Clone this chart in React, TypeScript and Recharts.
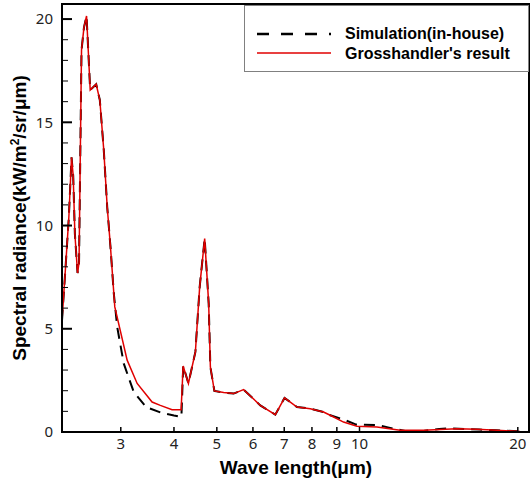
import { LineChart, Line, XAxis, YAxis, ReferenceArea, Legend } from "recharts";

// wavelength axis is drawn on a power-compressed scale, like the source plot
const EXP = 0.15;
const fx = (wl: number) => Math.pow(wl, EXP);
const fxInv = (u: number) => Math.pow(u, 1 / EXP);

const xMin = 2.15;
const xMax = 20.95;
const yMax = 20.73;

const xTicks = [3, 4, 5, 6, 7, 8, 9, 10, 20];
const yTicks = [0, 1, 2, 3, 4, 5, 6, 7, 8, 9, 10, 11, 12, 13, 14, 15, 16, 17, 18, 19, 20];

// Grosshandler's result (red)
const grossWl = [
  2.15, 2.195, 2.237, 2.272, 2.294, 2.316, 2.352, 2.372, 2.406, 2.44, 2.476, 2.528, 2.615, 2.669, 2.729,
  2.782, 2.833, 2.902, 3.107, 3.282, 3.559, 3.72, 3.96, 4.154, 4.198, 4.316, 4.476, 4.577, 4.697, 4.795,
  4.837, 4.937, 5.178, 5.447, 5.727, 6.224, 6.701, 7.011, 7.209, 7.445, 7.935, 8.453, 8.724, 9.286,
  9.882, 10.83, 12.03, 13.35, 15.44, 16.83, 18.31, 20.18,
];
const grossVal = [
  5.4, 8.0, 10.4, 13.3, 12.4, 9.6, 7.7, 8.2, 18.5, 19.6, 20.15, 16.56, 16.84, 16.08, 13.65,
  10.9, 8.97, 6.06, 3.48, 2.35, 1.45, 1.29, 1.08, 1.08, 3.2, 2.35, 3.88, 7.03, 9.37, 6.22,
  3.15, 1.99, 1.91, 1.86, 2.05, 1.29, 0.84, 1.65, 1.45, 1.21, 1.13, 0.97, 0.81, 0.48,
  0.28, 0.24, 0.08, 0.08, 0.16, 0.13, 0.08, 0.03,
];

// Simulation (in-house), black dashed
const simWl = [
  2.15, 2.195, 2.237, 2.272, 2.294, 2.316, 2.352, 2.372, 2.406, 2.44, 2.476, 2.528, 2.615, 2.669, 2.729,
  2.782, 2.833, 2.886, 2.941, 3.049, 3.221, 3.45, 3.72, 4.0, 4.16, 4.2, 4.316, 4.476, 4.577, 4.697, 4.795,
  4.837, 4.937, 5.178, 5.447, 5.727, 6.224, 6.701, 7.011, 7.209, 7.445, 7.935, 8.453, 8.724, 9.3,
  9.85, 10.83, 11.5, 12.3, 13.35, 14.3, 15.0, 16.0, 17.0, 18.3, 20.18,
];
const simVal = [
  5.4, 8.0, 10.4, 13.3, 12.4, 9.6, 7.7, 8.2, 18.5, 19.6, 20.15, 16.56, 16.84, 16.08, 13.65,
  10.9, 8.97, 6.71, 5.09, 3.32, 1.94, 1.2, 0.95, 0.8, 0.73, 3.2, 2.35, 3.88, 7.03, 9.37, 6.22,
  3.15, 1.99, 1.91, 1.86, 2.05, 1.29, 0.84, 1.65, 1.45, 1.21, 1.13, 0.97, 0.81, 0.6,
  0.36, 0.34, 0.2, 0.05, 0.05, 0.15, 0.18, 0.14, 0.12, 0.08, 0.03,
];

const grossData = grossWl.map((wl, i) => ({ wl, v: grossVal[i] }));
const simData = simWl.map((wl, i) => ({ wl, v: simVal[i] }));

const tickFont = "'Noto Sans', 'DejaVu Sans', sans-serif";
const titleFont = "'Liberation Sans', Arial, sans-serif";

const XTick = (props: any) => {
  const { x, y, payload } = props;
  return (
    <g>
      <line x1={x} x2={x} y1={y} y2={y - 5} stroke="#000" strokeWidth={1.5} />
      <text x={x} y={y + 17} textAnchor="middle" fontSize={15} fontFamily={tickFont} fill="#222">
        {Math.round(fxInv(payload.value))}
      </text>
    </g>
  );
};

const YTick = (props: any) => {
  const { x, y, payload } = props;
  const major = payload.value % 5 === 0;
  return (
    <g>
      <line x1={x} x2={x + (major ? 10 : 6)} y1={y} y2={y} stroke="#000" strokeWidth={major ? 2 : 1} />
      {major && (
        <text x={x - 9} y={y} dy="0.35em" textAnchor="end" fontSize={15} fontFamily={tickFont} fill="#222">
          {payload.value}
        </text>
      )}
    </g>
  );
};

const YTitle = () => (
  <text
    x={26}
    y={218}
    transform="rotate(-90, 26, 218)"
    textAnchor="middle"
    fontSize={19}
    fontWeight="bold"
    fontFamily={titleFont}
    fill="#000"
  >
    Spectral radiance(kW/m
    <tspan dy={-7} fontSize={12}>2</tspan>
    <tspan dy={7}>/sr/μm)</tspan>
  </text>
);

const XTitle = () => (
  <text x={296} y={474} textAnchor="middle" fontSize={19} fontWeight="bold" fontFamily={titleFont} fill="#000">
    Wave length(μm)
  </text>
);

const LegendBox = () => (
  <svg width={282} height={64} style={{ display: "block" }}>
    <line x1={12} x2={86} y1={28} y2={28} stroke="#000" strokeWidth={2.5} strokeDasharray="12 12" />
    <line x1={12} x2={86} y1={47} y2={47} stroke="#e00000" strokeWidth={1.5} />
    <text x={100} y={33} fontSize={16} fontWeight="bold" fontFamily={titleFont} fill="#000">
      Simulation(in-house)
    </text>
    <text x={100} y={53} fontSize={16} fontWeight="bold" fontFamily={titleFont} fill="#000">
      Grosshandler's result
    </text>
  </svg>
);

export default function App() {
  return (
    <div style={{ position: "absolute", left: 0, top: 0, background: "#fff" }}>
      <LineChart width={532} height={480} margin={{ top: 4, right: 3, bottom: 0, left: 0 }}>
        <XAxis
          type="number"
          dataKey={(d: any) => fx(d.wl)}
          domain={[fx(xMin), fx(xMax)]}
          allowDataOverflow
          ticks={xTicks.map(fx)}
          interval={0}
          height={48}
          tickSize={0}
          tickMargin={0}
          tickLine={false}
          axisLine={{ stroke: "#000", strokeWidth: 2 }}
          tick={<XTick />}
          label={<XTitle />}
        />
        <YAxis
          type="number"
          domain={[0, yMax]}
          allowDataOverflow
          ticks={yTicks}
          interval={0}
          width={62}
          tickSize={0}
          tickMargin={0}
          tickLine={false}
          axisLine={{ stroke: "#000", strokeWidth: 2 }}
          tick={<YTick />}
          label={<YTitle />}
        />
        <ReferenceArea
          x1={fx(xMin)}
          x2={fx(xMax)}
          y1={0}
          y2={yMax}
          fill="none"
          stroke="#000"
          strokeWidth={2}
          ifOverflow="visible"
        />
        <Line
          data={simData}
          dataKey="v"
          name="Simulation(in-house)"
          stroke="#000"
          strokeWidth={2}
          strokeDasharray="11 7"
          dot={false}
          type="linear"
          isAnimationActive={false}
        />
        <Line
          data={grossData}
          dataKey="v"
          name="Grosshandler's result"
          stroke="#e00000"
          strokeWidth={1.5}
          dot={false}
          type="linear"
          isAnimationActive={false}
        />
        <Legend
          layout="vertical"
          align="center"
          verticalAlign="middle"
          content={<LegendBox />}
          wrapperStyle={{
            left: 244,
            top: 5,
            width: 285,
            height: 67,
            border: "1.5px solid #808080",
            background: "#fff",
            boxSizing: "border-box",
          }}
        />
      </LineChart>
    </div>
  );
}
